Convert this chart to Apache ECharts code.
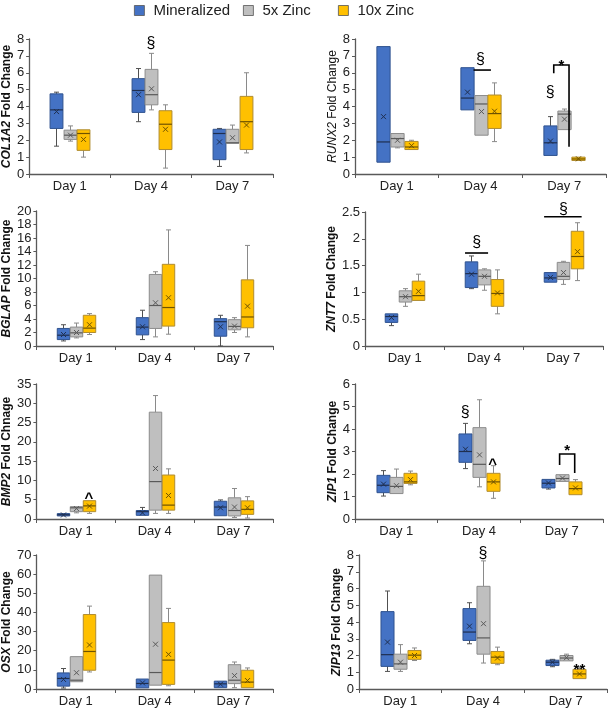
<!DOCTYPE html>
<html><head><meta charset="utf-8">
<script src="https://cdn.jsdelivr.net/npm/echarts@6/dist/echarts.min.js"></script>
<style>html,body{margin:0;padding:0;background:#fff}#c{width:608px;height:708px}</style>
</head><body><div id="c"></div>
<script>
// ---------- DATA ----------
const days = ['Day 1', 'Day 4', 'Day 7'];
const groups = ['Mineralized', '5x Zinc', '10x Zinc'];
const genes = ['COL1A2', 'RUNX2', 'BGLAP', 'ZNT7', 'BMP2', 'ZIP1', 'OSX', 'ZIP13'];
const yLabelSuffix = [' Fold Change', ' Fold Change', ' Fold Change', ' Fold Change', ' Fold Chnage', ' Fold Change', ' Fold Change', ' Fold Change'];
const yMax = [8, 8, 20, 2.5, 35, 6, 70, 8];
const yStep = [1, 1, 2, 0.5, 5, 1, 10, 1];

// each box per day: [min, q1, median, q3, max, mean]
const col1a2_min = [[1.65,2.7,3.8,4.75,4.85,3.7],[3.1,3.65,4.95,5.65,6.25,4.7],[0.45,0.85,2.4,2.65,2.7,1.9]];
const col1a2_5x  = [[1.95,2.05,2.3,2.6,2.85,2.3],[3.8,4.1,4.7,6.2,7.15,5.05],[1.8,1.82,1.85,2.65,2.9,2.15]];
const col1a2_10x = [[1.0,1.4,2.4,2.62,2.65,2.05],[0.35,1.45,2.95,3.75,4.1,2.65],[1.25,1.45,3.1,4.6,6.0,2.9]];

const runx2_min = [[0.7,0.7,1.9,7.55,7.55,3.4],[3.8,3.8,4.5,6.3,6.3,4.85],[1.1,1.1,1.85,2.85,3.4,1.95]];
const runx2_5x  = [[1.55,1.6,2.1,2.4,2.4,2.0],[2.3,2.3,4.15,4.65,4.65,3.7],[2.6,2.63,3.55,3.73,3.85,3.25]];
const runx2_10x = [[1.45,1.45,1.6,1.93,2.0,1.68],[1.92,2.7,3.58,4.68,5.4,3.72],[0.8,0.8,0.89,1.0,1.0,0.9]];

const bglap_min = [[0.75,0.95,1.6,2.6,3.15,1.7],[0.95,1.65,2.8,4.2,5.3,2.85],[0,1.45,3.6,4.05,4.55,2.85]];
const bglap_5x  = [[1.2,1.35,1.95,2.8,3.4,2.0],[1.35,2.6,6.0,10.6,11.0,6.4],[2.0,2.4,2.9,3.9,4.2,2.95]];
const bglap_10x = [[1.7,2.0,2.65,4.55,4.8,3.15],[1.75,2.95,5.7,12.1,17.2,7.15],[1.35,2.7,4.3,9.8,14.9,5.9]];

const znt7_min = [[0.38,0.44,0.55,0.6,0.6,0.53],[1.07,1.09,1.35,1.57,1.68,1.34],[1.18,1.19,1.27,1.37,1.37,1.28]];
const znt7_5x  = [[0.74,0.82,0.92,1.03,1.07,0.92],[1.04,1.14,1.3,1.42,1.44,1.3],[1.15,1.24,1.3,1.56,1.58,1.37]];
const znt7_10x = [[0.85,0.85,0.94,1.21,1.34,1.02],[0.6,0.74,0.98,1.24,1.42,0.99],[1.22,1.44,1.67,2.14,2.3,1.76]];

const bmp2_min = [[0.75,0.8,1.1,1.4,1.5,1.05],[0.95,0.95,1.9,2.2,3.0,1.6],[0.85,0.85,3.1,4.6,4.95,2.9]];
const bmp2_5x  = [[1.6,1.9,2.9,3.2,3.2,2.7],[1.45,2.3,9.7,27.7,32.0,13.1],[0.4,0.8,2.2,5.5,7.9,3.1]];
const bmp2_10x = [[1.45,1.9,3.4,4.75,4.75,3.35],[1.45,2.3,3.6,11.4,13.0,6.1],[0.25,1.2,2.5,4.7,5.8,2.9]];

const zip1_min = [[1.02,1.17,1.5,1.94,2.15,1.55],[2.24,2.52,3.0,3.78,4.25,3.1],[1.33,1.38,1.59,1.76,1.79,1.6]];
const zip1_5x  = [[1.1,1.13,1.45,1.85,2.22,1.48],[1.43,1.85,2.43,4.06,5.3,2.85],[1.67,1.67,1.8,1.97,1.97,1.82]];
const zip1_10x = [[1.52,1.58,1.65,2.03,2.13,1.75],[0.92,1.23,1.65,2.03,2.37,1.65],[1.05,1.08,1.35,1.65,1.75,1.38]];

const osx_min = [[0.5,1.5,5.5,8.4,10.7,5.0],[0.2,0.6,2.9,5.2,5.2,3.2],[0.4,0.7,2.7,4.1,4.5,2.5]];
const osx_5x  = [[3.8,3.8,4.6,16.9,16.9,8.5],[2.0,2.0,8.6,59.5,59.5,23.4],[0.7,2.8,4.6,12.7,14.1,7.0]];
const osx_10x = [[8.9,9.8,19.6,38.9,43.3,23.0],[1.7,2.4,15.1,34.7,42.1,18.1],[0.5,0.7,3.6,9.8,11.0,4.4]];

const zip13_min = [[1.05,1.35,2.05,4.62,5.85,2.8],[2.7,2.9,3.4,4.8,5.15,3.75],[1.33,1.4,1.6,1.72,1.77,1.6]];
const zip13_5x  = [[1.05,1.18,1.5,2.08,2.65,1.6],[1.55,2.08,3.05,6.13,7.65,3.9],[1.65,1.68,1.85,2.0,2.08,1.87]];
const zip13_10x = [[1.7,1.77,2.02,2.3,2.45,2.0],[1.45,1.53,1.9,2.24,2.5,1.85],[0.58,0.62,0.9,1.17,1.27,0.9]];

const panelData = [
  [col1a2_min, col1a2_5x, col1a2_10x],
  [runx2_min, runx2_5x, runx2_10x],
  [bglap_min, bglap_5x, bglap_10x],
  [znt7_min, znt7_5x, znt7_10x],
  [bmp2_min, bmp2_5x, bmp2_10x],
  [zip1_min, zip1_5x, zip1_10x],
  [osx_min, osx_5x, osx_10x],
  [zip13_min, zip13_5x, zip13_10x]
];

// significance marks: [panel, day index, group position (-1..1), value, text]
const annotations = [
  [0, 1, 0, 7.7, '§'],
  [1, 1, 0, 6.76, '§'],
  [1, 2, -1, 4.8, '§'],
  [1, 2, -0.2, 6.4, '*'],
  [3, 1, -0.56, 1.92, '§'],
  [3, 2, 0, 2.54, '§'],
  [4, 0, 1, 5.2, '^'],
  [5, 1, -1, 4.71, '§'],
  [5, 1, 1, 2.42, '^'],
  [5, 2, 0.4, 3.02, '*'],
  [7, 1, 0, 8.1, '§'],
  [7, 2, 1, 1.12, '**']
];
// bracket lines: [panel, day index, [[group position, value], ...]]
const brackets = [
  [1, 1, [[-0.5, 6.16], [0.75, 6.16]]],
  [1, 2, [[-0.75, 5.97], [-0.75, 6.46], [0.35, 6.46], [0.35, 1.62]]],
  [3, 1, [[-1.44, 1.735], [0.31, 1.735]]],
  [3, 2, [[-1.46, 2.41], [1.39, 2.41]]],
  [5, 2, [[-0.15, 2.4], [-0.15, 2.89], [0.95, 2.89], [0.95, 2.04]]]
];

// ---------- STYLE ----------
const fills = ['#4472C4', '#BFBFBF', '#FFC000'];
const borders = ['#2F528F', '#8C8C8C', '#B08C30'];
const medians = ['#1F2F50', '#595959', '#6E5200'];
const whisk = ['#505050', '#8a8a8a', '#8a8a8a'];
const gridPos = [
  {left: 25, right: 335, top: 39, bottom: 534},
  {left: 355, right: 2, top: 39, bottom: 534},
  {left: 31, right: 335, top: 211, bottom: 362},
  {left: 365, right: 5, top: 212, bottom: 362},
  {left: 31, right: 335, top: 384, bottom: 189},
  {left: 355, right: 5, top: 384, bottom: 189},
  {left: 31, right: 335, top: 555, bottom: 17},
  {left: 359, right: 1, top: 555, bottom: 17}
];
const nameGaps = [13, 12, 19, 22, 19, 12, 19, 15];
const nameBold = [true, false, true, true, true, true, true, true];
const FONT = '"Liberation Sans", Arial, sans-serif';
const axisColor = '#595959';

function boxRender(gi) {
  return function (params, api) {
    const cat = api.value(0);
    const band = api.size([1, 0])[0];
    const bw = band * 0.158, off = band * 0.166;
    const cx = Math.round(api.coord([cat, 0])[0] + (gi - 1) * off) + 0.5;
    const y = k => api.coord([cat, api.value(k)])[1];
    const yMin = y(1), yQ1 = y(2), yMed = y(3), yQ3 = y(4), yMx = y(5), yMean = y(6);
    const ch = [];
    const wl = {stroke: whisk[gi], lineWidth: 1};
    if (yQ3 - yMx > 0.8) {
      ch.push({type: 'line', shape: {x1: cx, y1: yMx, x2: cx, y2: yQ3}, style: wl});
      ch.push({type: 'line', shape: {x1: cx - 2.5, y1: yMx, x2: cx + 2.5, y2: yMx}, style: wl});
    }
    if (yMin - yQ1 > 0.8) {
      ch.push({type: 'line', shape: {x1: cx, y1: yQ1, x2: cx, y2: yMin}, style: wl});
      ch.push({type: 'line', shape: {x1: cx - 2.5, y1: yMin, x2: cx + 2.5, y2: yMin}, style: wl});
    }
    ch.push({type: 'rect', shape: {x: cx - bw / 2, y: yQ3, width: bw, height: Math.max(yQ1 - yQ3, 1)},
      style: {fill: fills[gi], stroke: borders[gi], lineWidth: 1}});
    ch.push({type: 'line', shape: {x1: cx - bw / 2, y1: yMed, x2: cx + bw / 2, y2: yMed},
      style: {stroke: medians[gi], lineWidth: 1.2}});
    const s = 2.5;
    ch.push({type: 'line', shape: {x1: cx - s, y1: yMean - s, x2: cx + s, y2: yMean + s}, style: {stroke: medians[gi], lineWidth: 1}});
    ch.push({type: 'line', shape: {x1: cx - s, y1: yMean + s, x2: cx + s, y2: yMean - s}, style: {stroke: medians[gi], lineWidth: 1}});
    return {type: 'group', children: ch};
  };
}

const xAxes = [], yAxes = [], series = [];
genes.forEach((g, p) => {
  xAxes.push({
    gridIndex: p, type: 'category', data: days, boundaryGap: true,
    axisLine: {lineStyle: {color: axisColor, width: 1.3}},
    axisTick: {show: true, length: 4, lineStyle: {color: axisColor}},
    axisLabel: {fontSize: 13, color: '#222', fontFamily: FONT, margin: 6},
    splitLine: {show: false}
  });
  const fw = nameBold[p] ? 'bold' : 'normal';
  yAxes.push({
    gridIndex: p, type: 'value', min: 0, max: yMax[p], interval: yStep[p],
    name: '{i|' + g + '}{n|' + yLabelSuffix[p] + '}',
    nameLocation: 'middle', nameGap: nameGaps[p], nameRotate: 90,
    nameTextStyle: {
      fontFamily: FONT, fontSize: 12, fontWeight: fw, color: '#111',
      rich: {
        i: {fontFamily: FONT, fontSize: 12, fontWeight: fw, fontStyle: 'italic', color: '#111'},
        n: {fontFamily: FONT, fontSize: 12, fontWeight: fw, color: '#111'}
      }
    },
    axisLine: {show: true, lineStyle: {color: axisColor, width: 1.3}},
    axisTick: {show: true, length: 3, lineStyle: {color: axisColor}},
    axisLabel: {fontSize: 13, color: '#222', fontFamily: FONT, margin: 5},
    splitLine: {show: false}
  });
  groups.forEach((gn, gi) => {
    series.push({
      type: 'custom', name: gn, xAxisIndex: p, yAxisIndex: p,
      itemStyle: {color: fills[gi], borderColor: borders[gi]},
      encode: {x: 0, y: [1, 2, 3, 4, 5]},
      data: panelData[p][gi].map((b, d) => [d].concat(b)),
      renderItem: boxRender(gi), silent: true
    });
  });
  const ann = annotations.filter(a => a[0] === p);
  if (ann.length) {
    series.push({
      type: 'custom', xAxisIndex: p, yAxisIndex: p, silent: true,
      encode: {x: 0, y: 2},
      data: ann.map(a => [a[1], a[2], a[3]]),
      renderItem: function (params, api) {
        const a = ann[params.dataIndex];
        const cat = api.value(0);
        const off = api.size([1, 0])[0] * 0.166;
        const pt = api.coord([cat, api.value(2)]);
        const bold = a[4] !== '§';
        return {type: 'text', x: pt[0] + api.value(1) * off, y: pt[1],
          style: {text: a[4], fill: '#000', align: 'center', verticalAlign: 'middle',
            font: (bold ? 'bold ' : '') + (a[4] === '§' ? '16px ' : '15px ') + FONT}};
      }
    });
  }
  const br = brackets.filter(b => b[0] === p);
  if (br.length) {
    series.push({
      type: 'custom', xAxisIndex: p, yAxisIndex: p, silent: true,
      encode: {x: 0, y: 1},
      data: br.map(b => [b[1], b[2][0][1]]),
      renderItem: function (params, api) {
        const b = br[params.dataIndex];
        const cat = api.value(0);
        const off = api.size([1, 0])[0] * 0.166;
        const pts = b[2].map(q => {
          const c = api.coord([cat, q[1]]);
          return [c[0] + q[0] * off, c[1]];
        });
        return {type: 'polyline', shape: {points: pts}, style: {stroke: '#000', lineWidth: 1.6, fill: null}};
      }
    });
  }
});

const legendCommon = {
  orient: 'horizontal', top: 3, padding: 0, itemWidth: 10, itemHeight: 10,
  icon: 'rect', selectedMode: false,
  itemStyle: {borderColor: '#555', borderWidth: 0.8},
  textStyle: {fontFamily: FONT, fontSize: 15, color: '#222', padding: [0, 0, 0, 4]}
};
const chart = echarts.init(document.getElementById('c'), null, {renderer: 'canvas', width: 608, height: 708});
chart.setOption({
  animation: false,
  backgroundColor: '#fff',
  legend: [
    Object.assign({left: 134, data: [groups[0]]}, legendCommon),
    Object.assign({left: 243, data: [groups[1]]}, legendCommon),
    Object.assign({left: 338, data: [groups[2]]}, legendCommon)
  ],
  grid: gridPos.map(g => Object.assign({containLabel: false}, g)),
  xAxis: xAxes,
  yAxis: yAxes,
  series: series
});
</script>
</body></html>
